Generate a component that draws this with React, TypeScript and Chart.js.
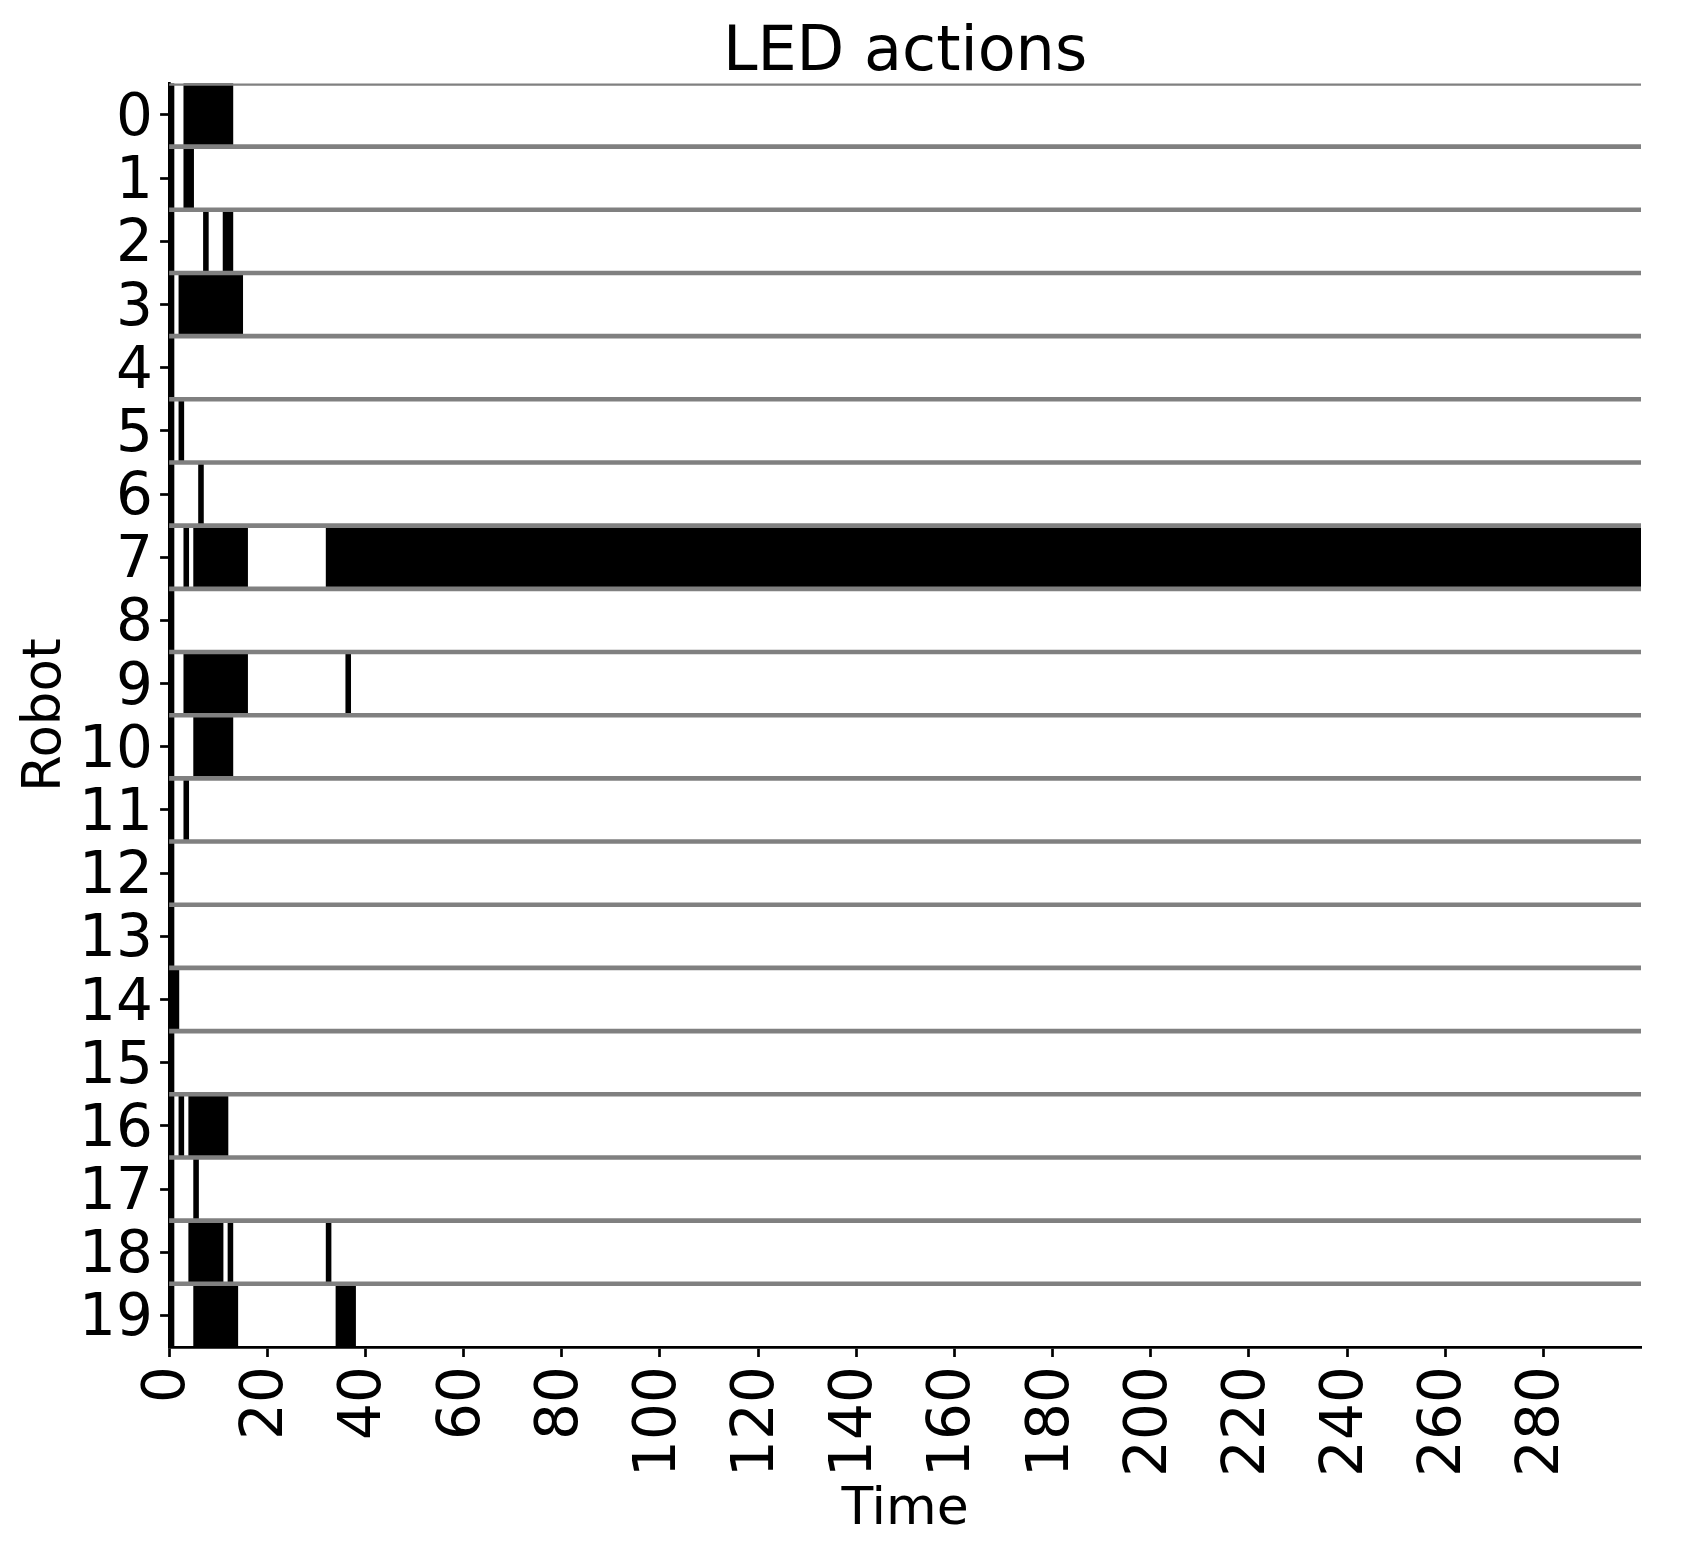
import React, { useEffect, useRef } from 'react';
import { Chart, registerables } from 'chart.js';

Chart.register(...registerables);

// Robot (row) labels, top to bottom
const robotNames = ['0', '1', '2', '3', '4', '5', '6', '7', '8', '9', '10', '11', '12', '13', '14', '15', '16', '17', '18', '19'];

// LED "on" intervals per robot, as [start, end] in time units
const led0 = [[0, 1], [3, 13]];
const led1 = [[0, 1], [3, 5]];
const led2 = [[0, 1], [7, 8], [11, 13]];
const led3 = [[0, 1], [2, 15]];
const led4 = [[0, 1]];
const led5 = [[0, 1], [2, 3]];
const led6 = [[0, 1], [6, 7]];
const led7 = [[0, 1], [3, 4], [5, 16], [32, 300]];
const led8 = [[0, 1]];
const led9 = [[0, 1], [3, 16], [36, 37]];
const led10 = [[0, 1], [5, 13]];
const led11 = [[0, 1], [3, 4]];
const led12 = [[0, 1]];
const led13 = [[0, 1]];
const led14 = [[0, 2]];
const led15 = [[0, 1]];
const led16 = [[0, 1], [2, 3], [4, 12]];
const led17 = [[0, 1], [5, 6]];
const led18 = [[0, 1], [4, 11], [12, 13], [32, 33]];
const led19 = [[0, 1], [5, 14], [34, 38]];

const ledIntervals = [led0, led1, led2, led3, led4, led5, led6, led7, led8, led9,
  led10, led11, led12, led13, led14, led15, led16, led17, led18, led19];

// Time axis
const timeMin = 0;
const timeMax = 299.9;
const timeTicks = [0, 20, 40, 60, 80, 100, 120, 140, 160, 180, 200, 220, 240, 260, 280];

const FONT = 'DejaVu Sans';

const rowSeparators = {
  id: 'rowSeparators',
  afterDatasetsDraw(chart: any) {
    const { ctx, chartArea, scales } = chart;
    const y = scales.y;
    ctx.save();
    ctx.beginPath();
    ctx.rect(chartArea.left, chartArea.top, chartArea.right - chartArea.left, chartArea.bottom - chartArea.top);
    ctx.clip();
    ctx.strokeStyle = '#808080';
    ctx.lineWidth = 4.6;
    robotNames.forEach((_, i) => {
      const py = y.getPixelForValue(i - 0.5);
      ctx.beginPath();
      ctx.moveTo(chartArea.left, py);
      ctx.lineTo(chartArea.right, py);
      ctx.stroke();
    });
    ctx.restore();
  },
};

export default function App() {
  const canvasRef = useRef<HTMLCanvasElement | null>(null);

  useEffect(() => {
    if (!canvasRef.current) return;
    Chart.defaults.color = '#000';
    Chart.defaults.font.family = FONT;

    const maxSeg = Math.max(...ledIntervals.map((r) => r.length));
    const datasets = [];
    for (let k = 0; k < maxSeg; k++) {
      datasets.push({
        label: 'segment ' + k,
        data: ledIntervals.map((r) => (r[k] ? r[k] : null)),
        backgroundColor: '#000',
        borderWidth: 0,
        barPercentage: 1,
        categoryPercentage: 1,
        grouped: false,
      });
    }

    const chart = new Chart(canvasRef.current, {
      type: 'bar',
      data: { labels: robotNames, datasets: datasets as any },
      plugins: [rowSeparators],
      options: {
        indexAxis: 'y',
        animation: false,
        responsive: false,
        maintainAspectRatio: false,
        layout: { padding: { left: 0, right: 34, top: 0, bottom: 0 } },
        plugins: {
          legend: { display: false },
          tooltip: { enabled: false },
          title: {
            display: true,
            text: 'LED actions',
            fullSize: false,
            color: '#000',
            font: { family: FONT, size: 62, weight: 'normal', lineHeight: 0.95 },
            padding: { top: 16.5, bottom: 0 },
          },
        },
        scales: {
          x: {
            type: 'linear',
            min: timeMin,
            max: timeMax,
            afterBuildTicks: (scale: any) => {
              scale.ticks = timeTicks.map((v) => ({ value: v }));
            },
            grid: {
              display: true,
              drawOnChartArea: false,
              drawTicks: true,
              tickLength: 10,
              tickWidth: 2.7,
              tickColor: '#000',
            },
            border: { display: true, color: '#000', width: 2.7 },
            ticks: {
              includeBounds: false,
              autoSkip: false,
              minRotation: 90,
              maxRotation: 90,
              padding: 9.2,
              color: '#000',
              font: { family: FONT, size: 58, lineHeight: 1.2 },
            },
            title: {
              display: true,
              text: 'Time',
              color: '#000',
              font: { family: FONT, size: 52, lineHeight: 0.8 },
              padding: { top: 3.3, bottom: 2 },
            },
          },
          y: {
            type: 'category',
            offset: true,
            grid: {
              display: true,
              offset: false,
              drawOnChartArea: false,
              drawTicks: true,
              tickLength: 9,
              tickWidth: 2.7,
              tickColor: '#000',
            },
            border: { display: true, color: '#000', width: 2.7 },
            ticks: {
              padding: 7.2,
              labelOffset: 5,
              color: '#000',
              autoSkip: false,
              font: { family: FONT, size: 58, lineHeight: 1.2 },
            },
            title: {
              display: true,
              text: 'Robot',
              color: '#000',
              font: { family: FONT, size: 53, lineHeight: 0.96 },
              padding: { top: 13, bottom: 0 },
            },
          },
        },
      },
    });

    return () => chart.destroy();
  }, []);

  return (
    <div style={{ width: 1667, height: 1525 }}>
      <canvas ref={canvasRef} width={1667} height={1525} style={{ display: 'block', width: 1667, height: 1525 }} />
    </div>
  );
}
